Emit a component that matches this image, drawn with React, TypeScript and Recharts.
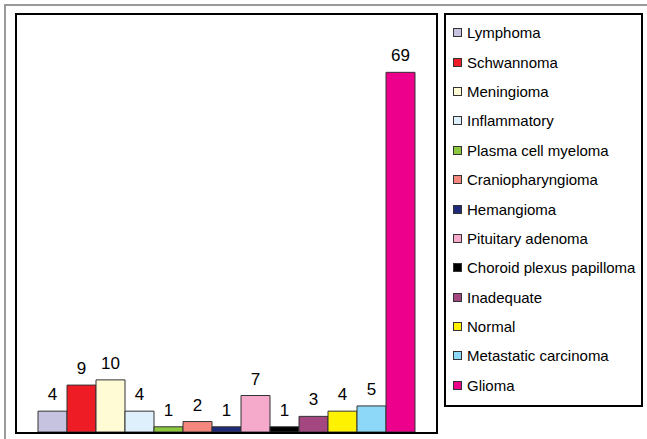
import React from 'react';
import { BarChart, Bar, XAxis, YAxis, Legend, LabelList } from 'recharts';

const categories = [
  'Lymphoma',
  'Schwannoma',
  'Meningioma',
  'Inflammatory',
  'Plasma cell myeloma',
  'Craniopharyngioma',
  'Hemangioma',
  'Pituitary adenoma',
  'Choroid plexus papilloma',
  'Inadequate',
  'Normal',
  'Metastatic carcinoma',
  'Glioma',
];

const counts = [4, 9, 10, 4, 1, 2, 1, 7, 1, 3, 4, 5, 69];

const colors = [
  '#C5C3E0',
  '#EE1C25',
  '#FFFBD5',
  '#DDF0FB',
  '#8DC63F',
  '#F4877E',
  '#1F2A7A',
  '#F6AACB',
  '#000000',
  '#A4467F',
  '#FFF200',
  '#8DD8F8',
  '#EC008C',
];

const row: Record<string, string | number> = { name: 'cases' };
categories.forEach((c, i) => {
  row[c] = counts[i];
});
const chartData = [row];

const FONT = '"Liberation Sans", Arial, sans-serif';

const LegendBox: React.FC = () => (
  <div
    style={{
      width: 195,
      height: 387,
      border: '2px solid #000',
      background: '#fff',
      paddingTop: 3,
      boxSizing: 'content-box',
      fontFamily: FONT,
    }}
  >
    {categories.map((c, i) => (
      <div key={c} style={{ height: 29.4, display: 'flex', alignItems: 'center' }}>
        <span
          style={{
            display: 'inline-block',
            flexShrink: 0,
            width: 7,
            height: 7,
            marginLeft: 7,
            marginRight: 5,
            background: colors[i],
            border: '1px solid #333',
          }}
        />
        <span style={{ fontSize: 15, color: '#000', whiteSpace: 'nowrap' }}>{c}</span>
      </div>
    ))}
  </div>
);

const App: React.FC = () => {
  return (
    <div style={{ position: 'absolute', left: 0, top: 0, width: 647, height: 439, background: '#fff', overflow: 'hidden' }}>
      <div
        style={{
          position: 'absolute',
          left: 4,
          top: 4,
          width: 660,
          height: 460,
          borderTop: '2px solid #9a9a9a',
          borderLeft: '2px solid #9a9a9a',
        }}
      />
      <BarChart
        width={647}
        height={439}
        data={chartData}
        margin={{ top: 15, left: 17, right: 211, bottom: 7 }}
        barGap={0}
        barCategoryGap={21}
        style={{ position: 'absolute', left: 0, top: 0 }}
      >
        <XAxis dataKey="name" hide />
        <YAxis hide domain={[0, 80]} />
        <Legend
          layout="vertical"
          align="center"
          verticalAlign="middle"
          content={() => <LegendBox />}
          wrapperStyle={{ position: 'absolute', left: 444, top: 13, width: 199 }}
        />
        {categories.map((c, i) => (
          <Bar key={c} dataKey={c} fill={colors[i]} stroke="#333" strokeWidth={1} isAnimationActive={false}>
            <LabelList
              dataKey={c}
              position="top"
              offset={11}
              fill="#000"
              fontSize={17}
              fontFamily={FONT}
            />
          </Bar>
        ))}
      </BarChart>
      <div
        style={{
          position: 'absolute',
          left: 15,
          top: 13,
          width: 419,
          height: 417,
          border: '2px solid #000',
          pointerEvents: 'none',
        }}
      />
    </div>
  );
};

export default App;
